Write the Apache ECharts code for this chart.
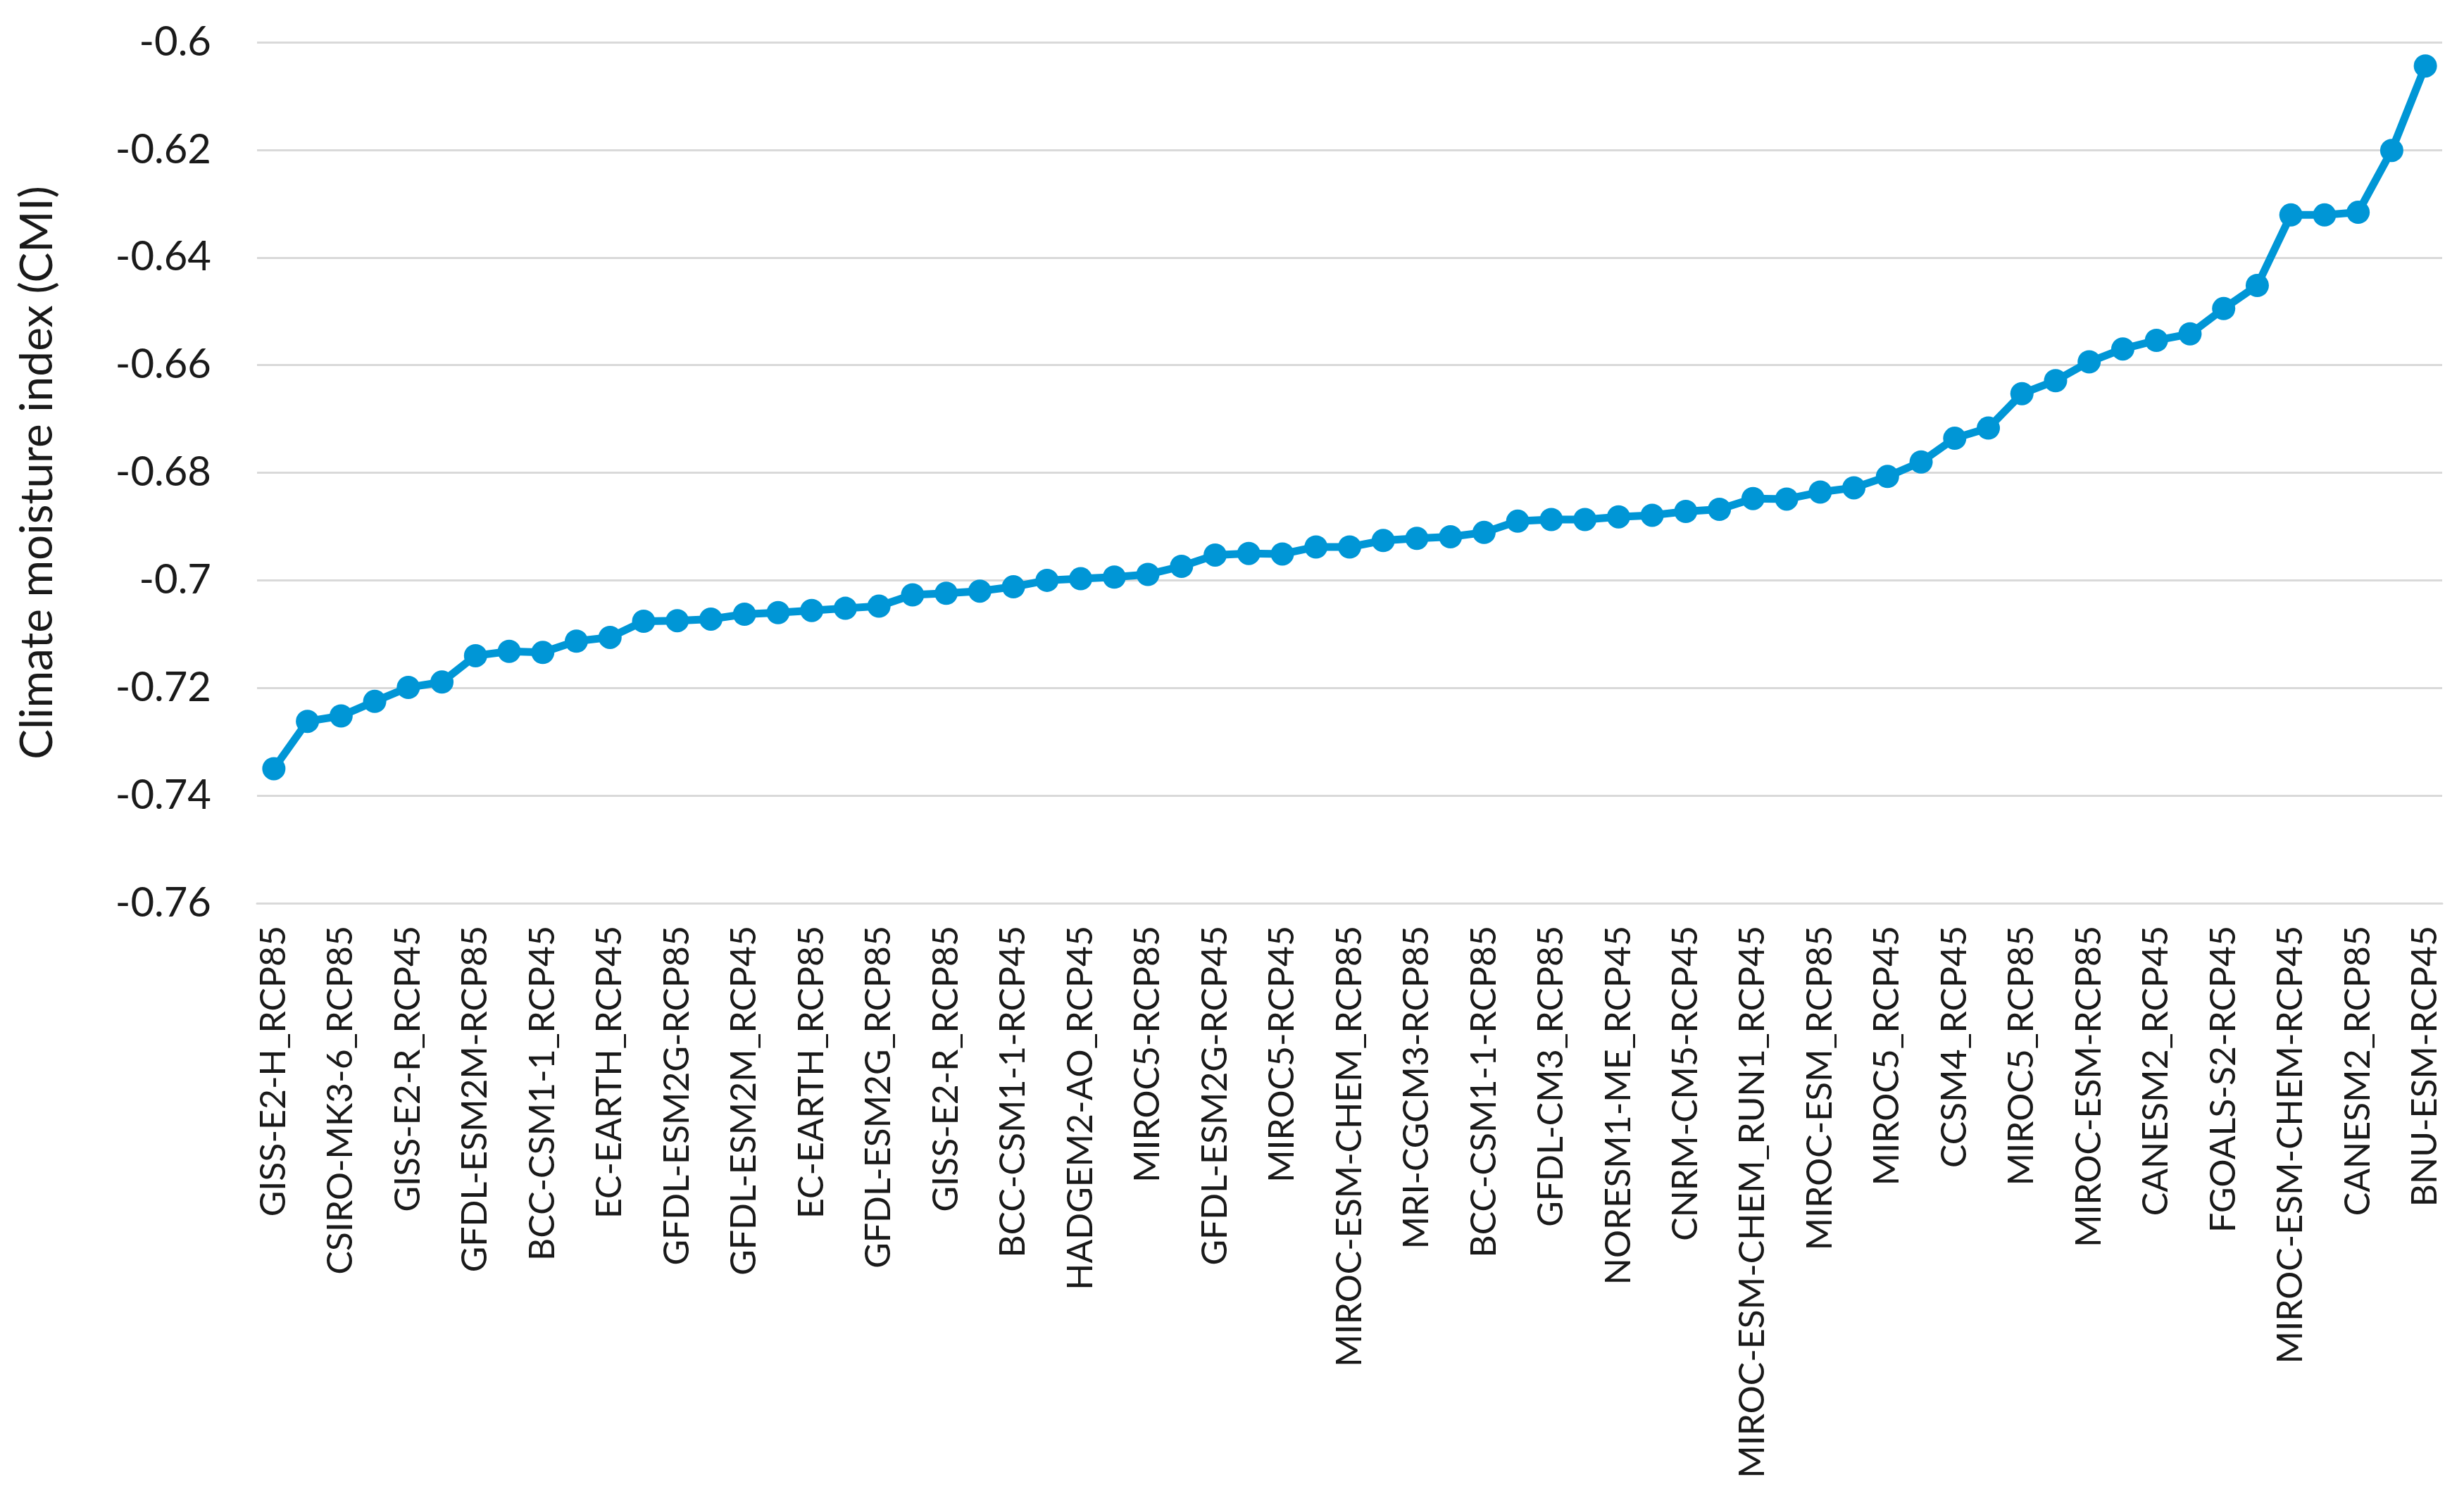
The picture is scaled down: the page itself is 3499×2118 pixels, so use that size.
<!DOCTYPE html>
<html>
<head>
<meta charset="utf-8">
<script src="https://cdn.jsdelivr.net/npm/echarts@6/dist/echarts.min.js"></script>
<style>
html,body{margin:0;padding:0;background:#fff;}
#chart{width:3499px;height:2118px;}
</style>
</head>
<body>
<div id="chart"></div>
<script>
// Model runs (only every other label is printed on the axis; unlabeled runs left blank)
const categories = [
  "GISS-E2-H_RCP85", "", "CSIRO-MK3-6_RCP85", "", "GISS-E2-R_RCP45", "",
  "GFDL-ESM2M-RCP85", "", "BCC-CSM1-1_RCP45", "", "EC-EARTH_RCP45", "",
  "GFDL-ESM2G-RCP85", "", "GFDL-ESM2M_RCP45", "", "EC-EARTH_RCP85", "",
  "GFDL-ESM2G_RCP85", "", "GISS-E2-R_RCP85", "", "BCC-CSM1-1-RCP45", "",
  "HADGEM2-AO_RCP45", "", "MIROC5-RCP85", "", "GFDL-ESM2G-RCP45", "",
  "MIROC5-RCP45", "", "MIROC-ESM-CHEM_RCP85", "", "MRI-CGCM3-RCP85", "",
  "BCC-CSM1-1-RCP85", "", "GFDL-CM3_RCP85", "", "NORESM1-ME_RCP45", "",
  "CNRM-CM5-RCP45", "", "MIROC-ESM-CHEM_RUN1_RCP45", "", "MIROC-ESM_RCP85", "",
  "MIROC5_RCP45", "", "CCSM4_RCP45", "", "MIROC5_RCP85", "",
  "MIROC-ESM-RCP85", "", "CANESM2_RCP45", "", "FGOALS-S2-RCP45", "",
  "MIROC-ESM-CHEM-RCP45", "", "CANESM2_RCP85", "", "BNU-ESM-RCP45"
];

const cmiValues = [
  -0.7350, -0.7262, -0.7252, -0.7225, -0.7199, -0.7189, -0.7140, -0.7132,
  -0.7134, -0.7113, -0.7106, -0.7076, -0.7075, -0.7072, -0.7063, -0.7060,
  -0.7056, -0.7052, -0.7048, -0.7027, -0.7024, -0.7020, -0.7012, -0.7000,
  -0.6997, -0.6994, -0.6989, -0.6974, -0.6953, -0.6950, -0.6951, -0.6938,
  -0.6938, -0.6926, -0.6922, -0.6919, -0.6911, -0.6890, -0.6887, -0.6887,
  -0.6882, -0.6879, -0.6872, -0.6868, -0.6848, -0.6849, -0.6836, -0.6828,
  -0.6807, -0.6780, -0.6736, -0.6717, -0.6653, -0.6629, -0.6594, -0.6570,
  -0.6554, -0.6542, -0.6495, -0.6452, -0.6321, -0.6321, -0.6316, -0.6201,
  -0.6044
];

const yMin = -0.76;
const yMax = -0.6;
const yStep = 0.02;
const yTitle = "Climate moisture index (CMI)";

const chart = echarts.init(document.getElementById('chart'));
chart.setOption({
  animation: false,
  backgroundColor: '#ffffff',
  grid: { left: 365, right: 31, top: 60, bottom: 835, containLabel: false, outerBoundsMode: 'none' },
  xAxis: {
    type: 'category',
    data: categories,
    boundaryGap: true,
    axisLine: { show: true, lineStyle: { color: '#d9d9d9', width: 3 } },
    axisTick: { show: false },
    axisLabel: {
      interval: 0,
      rotate: 90,
      margin: 32,
      color: '#1a1a1a',
      fontFamily: 'Lato',
      fontSize: 50
    }
  },
  yAxis: {
    type: 'value',
    min: yMin,
    max: yMax,
    interval: yStep,
    name: yTitle,
    nameLocation: 'middle',
    nameGap: 280,
    nameRotate: 90,
    nameTextStyle: { color: '#1a1a1a', fontFamily: 'Lato', fontSize: 64 },
    axisLine: { show: false },
    axisTick: { show: false },
    splitLine: { show: true, lineStyle: { color: '#d9d9d9', width: 3 } },
    axisLabel: {
      margin: 65,
      color: '#1a1a1a',
      fontFamily: 'Lato',
      fontSize: 58,
      formatter: function (v) { return String(Math.round(v * 100) / 100); }
    }
  },
  series: [{
    type: 'line',
    data: cmiValues,
    symbol: 'circle',
    symbolSize: 33,
    lineStyle: { color: '#0096d6', width: 11 },
    itemStyle: { color: '#0096d6' }
  }]
});
</script>
</body>
</html>
